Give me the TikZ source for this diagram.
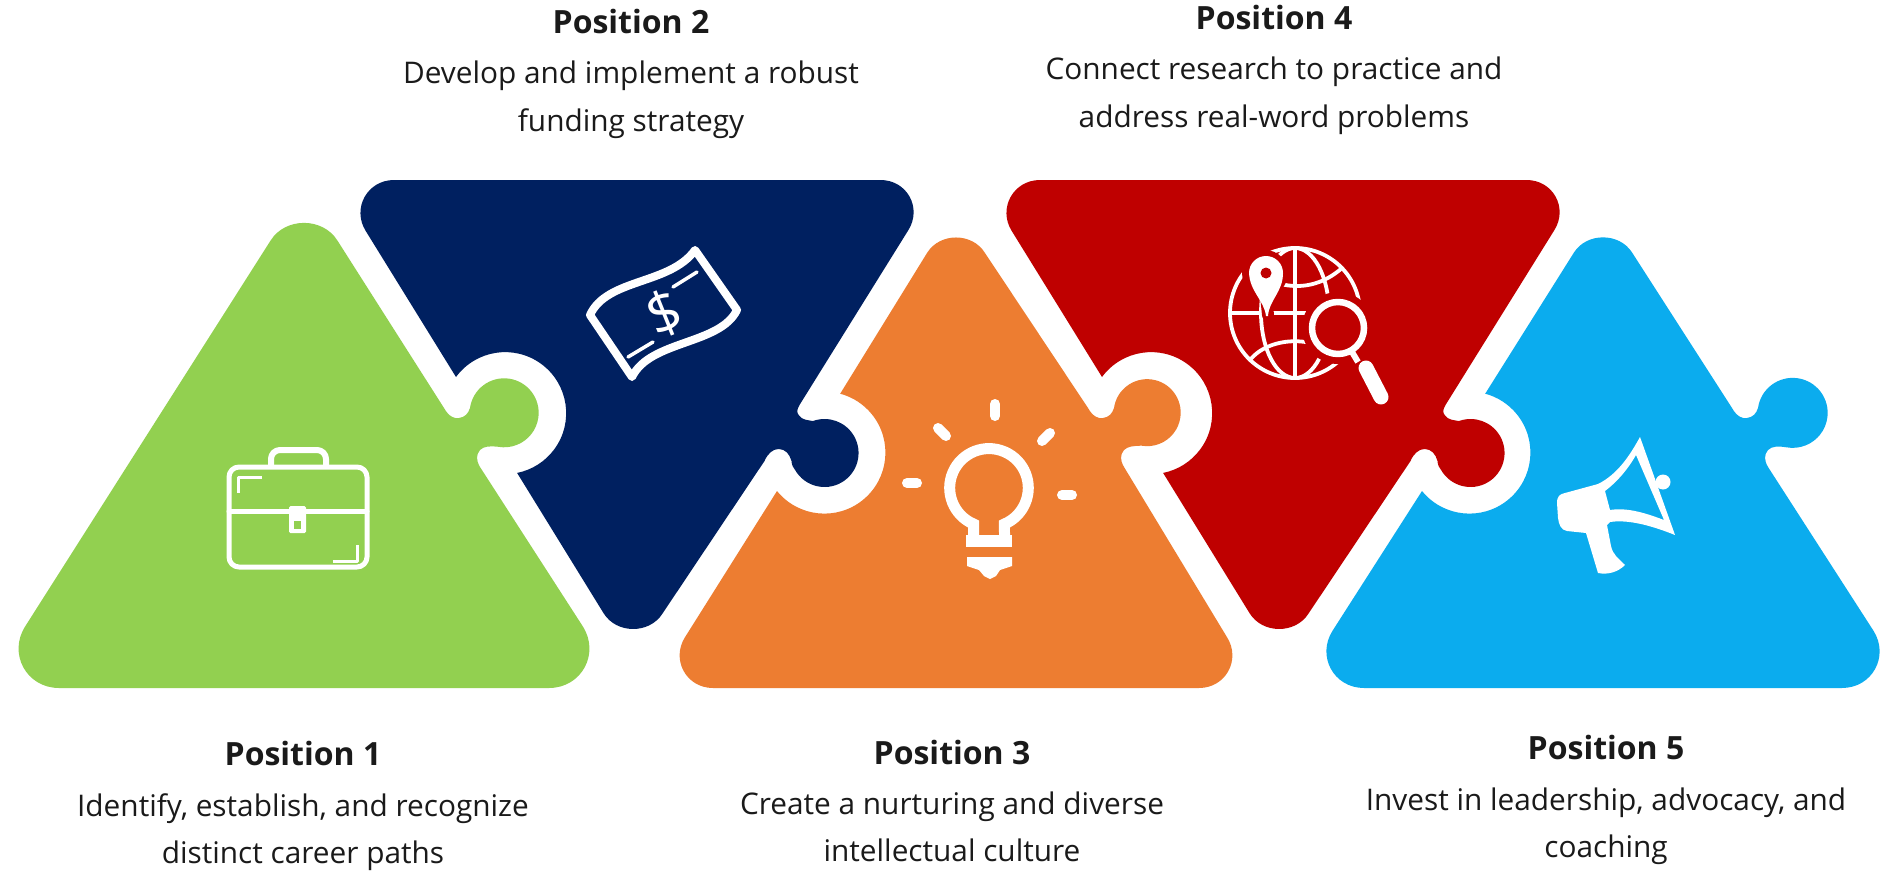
\documentclass[tikz,border=0pt]{standalone}
\usepackage{fontspec}
\setmainfont{Open Sans}
\usetikzlibrary{calc}
\definecolor{cgreen}{HTML}{92D050}
\definecolor{cnavy}{HTML}{002060}
\definecolor{corange}{HTML}{ED7D31}
\definecolor{cred}{HTML}{BF0000}
\definecolor{ccyan}{HTML}{0BACEE}
\definecolor{ctext}{HTML}{1A1A1A}
% rounded corner at vertex V between neighbours P and N, tangent length t
\newcommand\crn[4]{-- ($(#1)!#4pt!(#2)$) .. controls ($(#1)!.556*#4pt!(#2)$) and ($(#1)!.556*#4pt!(#3)$) .. ($(#1)!#4pt!(#3)$)}
% knob pointing right, on the right side of an upright triangle
\newcommand\kright[3]{-- ({#1-60},{#2-5}) .. controls ({#1-55},{#2+4}) and ({#1-49},{#2+6}) .. ({#1-45},{#2+5})
 .. controls ({#1-39},{#2+4}) and ({#1-36},{#2+1}) .. ({#1-34},{#2-5})
 arc[start angle=172,end angle=-100,radius=#3pt]
 .. controls ({#1-14},{#2+33}) and ({#1-20},{#2+33}) .. ({#1-24},{#2+37})
 .. controls ({#1-28},{#2+42}) and ({#1-28},{#2+47}) .. ({#1-24},{#2+54})}
% knob pointing right, on the right side of an inverted triangle
\newcommand\kdown[3]{-- ({#1-60},{#2+8}) .. controls ({#1-57},{#2+1}) and ({#1-52},{#2-4}) .. ({#1-46},{#2-4})
 .. controls ({#1-39},{#2-4}) and ({#1-35},{#2+1}) .. ({#1-33},{#2+8})
 .. controls ({#1-33},{#2+12}) and ({#1-31},{#2+15}) .. ({#1-29.4},{#2+17})
 arc[start angle=210,end angle=470,radius=#3pt]
 .. controls ({#1-17},{#2-33}) and ({#1-22},{#2-33}) .. ({#1-25},{#2-37})
 .. controls ({#1-28},{#2-40}) and ({#1-28},{#2-43}) .. ({#1-25},{#2-48})}
\tikzset{
  head/.style={font=\fontsize{32}{32}\selectfont\bfseries,text=ctext,inner sep=0pt,anchor=center},
  body/.style={font=\fontsize{29.8}{47.5}\selectfont,text=ctext,inner sep=0pt,align=center,anchor=center},
  iconline/.style={draw=white,line cap=round,line join=round},
}
\begin{document}
\begin{tikzpicture}[x=1pt,y=-1pt]
\useasboundingbox (0,0) rectangle (1902,875);
\fill[white] (0,0) rectangle (1902,875);
% green
\fill[cgreen] (304,688) \crn{-14,688}{304,688}{304,188}{73} \crn{304,188}{-14,688}{622,688}{62}
  \kright{504}{413}{34.5} \crn{622,688}{304,188}{-14,688}{73} -- cycle;
% navy
\fill[cnavy] (639,180) \crn{334,180}{639,180}{632.7,660}{60} -- (456,377)
  arc[start angle=143.7,end angle=-78.7,radius=61pt]
  \crn{632.7,660}{334,180}{940.5,180}{55}
  \kdown{824.5}{453}{34} \crn{940.5,180}{632.7,660}{639,180}{60} -- cycle;
% orange
\fill[corange] (956,688) \crn{653,688}{956,688}{956,207}{60} -- (777,491)
  arc[start angle=-141,end angle=75,radius=61pt]
  \crn{956,207}{653,688}{1259,688}{54}
  \kright{1148}{413}{33.5} \crn{1259,688}{956,207}{653,688}{60} -- cycle;
% red
\fill[cred] (1285,180) \crn{980,180}{1285,180}{1278.7,660}{60} -- (1102,377)
  arc[start angle=143.7,end angle=-78.7,radius=61pt]
  \crn{1278.7,660}{980,180}{1586.5,180}{55}
  \kdown{1470.5}{453}{34} \crn{1586.5,180}{1278.7,660}{1285,180}{60} -- cycle;
% cyan
\fill[ccyan] (1603,688) \crn{1296,688}{1603,688}{1603,207}{68} -- (1422,491)
  arc[start angle=-141,end angle=75,radius=61pt]
  \crn{1603,207}{1296,688}{1910,688}{54}
  \kright{1792}{413}{35} \crn{1910,688}{1603,207}{1296,688}{68} -- cycle;
% briefcase
\begin{scope}[iconline,line width=5pt]
  \draw[rounded corners=10pt] (229,467) rectangle (367,567);
  \draw (229,511) -- (367,511);
  \draw[line width=6pt,rounded corners=9pt] (271,466) -- (271,450) -- (326,450) -- (326,466);
  \fill[white,draw=none,rounded corners=1.5pt] (289,506) rectangle (306,533);
  \fill[cgreen,draw=none] (294,521) rectangle (301,529);
  \draw[line width=3pt,line cap=butt] (262,477) -- (238,477) -- (238,493);
  \draw[line width=3pt,line cap=butt] (333,561) -- (357,561) -- (357,545);
\end{scope}
% banknote
\begin{scope}[iconline,line width=8pt]
  \draw (590,315) .. controls (607,278) and (670,285) .. (695,250) -- (737,310)
     .. controls (720,345) and (650,340) .. (632,377) -- cycle;
  \draw[line width=3.5pt] (673,287) -- (697,272);
  \draw[line width=3.5pt] (628,357) -- (653,342);
\end{scope}
\node[text=white,inner sep=0pt,rotate=22,font=\fontsize{58}{58}\selectfont] (dollar) at (664,313) {\$};
% lightbulb
\begin{scope}[iconline,line width=11pt]
  \draw[line cap=butt,line join=miter] (973.5,538) -- (973.5,524) arc[start angle=246.8,end angle=-66.8,radius=39.3pt] -- (1004.5,538);
  \fill[white,draw=none] (966,535) rectangle (1012,547);
  \fill[white,draw=none] (967,557) -- (1012,557) -- (1012,566) -- (1000,570) -- (996,576) -- (990,579) -- (984,576) -- (979,570) -- (967,566) -- cycle;
  \draw[line width=10pt] (995,404) -- (995,416);
  \draw[line width=10pt] (938,428) -- (946,436);
  \draw[line width=10pt] (1050,433) -- (1042,441);
  \draw[line width=10pt] (907,483) -- (917,483);
  \draw[line width=10pt] (1062,495) -- (1072,495);
\end{scope}
% globe
\begin{scope}[iconline,line width=3.8pt]
  \draw (1295,313) circle[radius=65pt];
  \draw (1295,313) ellipse[x radius=34pt,y radius=65pt];
  \draw (1295,248) -- (1295,378);
  \draw (1230,313) -- (1360,313);
  \draw (1248,268) .. controls (1280,292) and (1315,292) .. (1342,268);
  \draw (1250,360) .. controls (1270,335) and (1320,335) .. (1340,360);
  % halos
  \fill[cred,draw=none] (1338,328) circle[radius=36pt];
  \draw[cred,line width=22pt,line cap=butt] (1352,355) -- (1382,400);
  \fill[cred,draw=none] (1265,273) circle[radius=23pt];
  \draw[cred,line width=12pt] (1265,285) -- (1268,315);
  % magnifier
  \draw[line width=6.5pt] (1338,328) circle[radius=26pt];
  \draw[line width=6pt,line cap=butt] (1352,352) -- (1358,362);
  \draw[line width=15pt] (1366,368) -- (1381,397);
  % pin
  \fill[white,draw=none] (1266,316) .. controls (1264,300) and (1250,292) .. (1249,273)
     arc[start angle=180,end angle=0,radius=17pt]
     .. controls (1283,292) and (1269,300) .. (1268,316) -- cycle;
  \fill[cred,draw=none] (1266,273) circle[radius=5.5pt];
\end{scope}
% megaphone
\fill[white,even odd rule,line join=round]
  (1557,503) .. controls (1557,496) and (1560,494) .. (1565,493)
  -- (1598,484) .. controls (1618,474) and (1630,455) .. (1640,437)
  -- (1675,535) .. controls (1655,527) and (1630,519) .. (1610,522)
  -- (1607,525) -- (1611,546) .. controls (1613,555) and (1618,558) .. (1625,565)
  .. controls (1618,572) and (1608,575) .. (1598,573)
  -- (1586,533) -- (1567,531) .. controls (1561,530) and (1559,525) .. (1558,518) -- cycle
  (1605,491) .. controls (1618,481) and (1628,469) .. (1636,455)
  -- (1664,520) .. controls (1648,514) and (1628,507) .. (1610,510) -- cycle;
\fill[white] (1663,482) circle[radius=7.5pt];
% texts
\node[head] (p1) at (303,753) {Position 1};
\node[body] (t1) at (303,832) {Identify, establish, and recognize\\distinct career paths};
\node[head] (p2) at (631,22) {Position 2};
\node[body] (t2) at (631,100) {Develop and implement a robust\\funding strategy};
\node[head] (p3) at (952,752) {Position 3};
\node[body] (t3) at (952,827) {Create a nurturing and diverse\\intellectual culture};
\node[head] (p4) at (1274,18) {Position 4};
\node[body] (t4) at (1274,96) {Connect research to practice and\\address real-word problems};
\node[head] (p5) at (1606,747) {Position 5};
\node[body] (t5) at (1606,826) {Invest in leadership, advocacy, and\\coaching};
\end{tikzpicture}
\end{document}
